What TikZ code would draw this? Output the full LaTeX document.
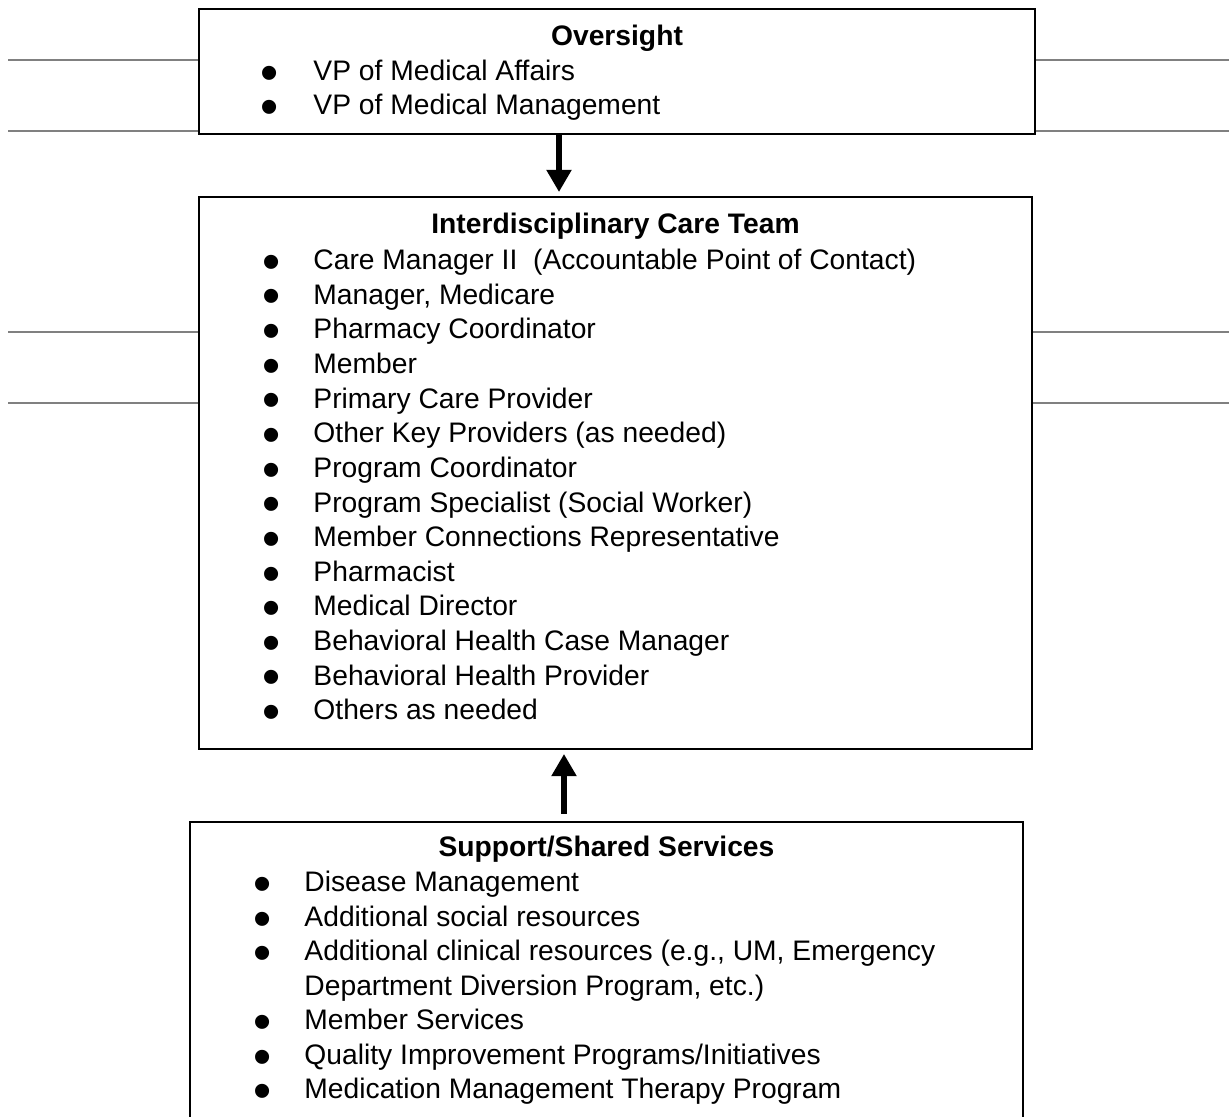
\documentclass[tikz,border=0pt]{standalone}
\usepackage{fontspec}
\setmainfont{Liberation Sans}
\usetikzlibrary{fit,arrows.meta}

\tikzset{
	box/.style={draw,line width=0.85pt,inner sep=0pt},
	sideline/.style={draw=gray,line width=0.8pt},
	ttl/.style={font=\fontsize{12}{14}\bfseries,anchor=base,inner sep=0pt},
	itm/.style={font=\fontsize{12}{14}\selectfont,anchor=base west,inner sep=0pt},
	bul/.style={font=\fontsize{22}{22}\selectfont,anchor=base,inner sep=0pt,yshift=-4.1pt},
	flow/.style={line width=2.2pt,-{Triangle[width=10.2pt,length=9.4pt]}}
}

\begin{document}
\begin{tikzpicture}[x=0.425pt,y=-0.425pt]
	\useasboundingbox (0,0) rectangle (1229,1117);
	\clip (0,0) rectangle (1229,1117);

	%boxes
	\node[box,fit={(199,9.5) (1035,134)}] (ov) {};		%oversight
	\node[box,fit={(199,197) (1032,749)}] (ict) {};		%care team
	\node[box,fit={(190,822) (1023,1140)}] (sup) {};	%support, runs off the page

	%side lines
	\coordinate (l1) at (8,60);		\coordinate (r1) at (1229,60);
	\coordinate (l2) at (8,131);	\coordinate (r2) at (1229,131);
	\coordinate (l3) at (8,332);	\coordinate (r3) at (1229,332);
	\coordinate (l4) at (8,403);	\coordinate (r4) at (1229,403);
	\draw[sideline] (l1) -- (l1 -| ov.west);	\draw[sideline] (r1) -- (r1 -| ov.east);
	\draw[sideline] (l2) -- (l2 -| ov.west);	\draw[sideline] (r2) -- (r2 -| ov.east);
	\draw[sideline] (l3) -- (l3 -| ict.west);	\draw[sideline] (r3) -- (r3 -| ict.east);
	\draw[sideline] (l4) -- (l4 -| ict.west);	\draw[sideline] (r4) -- (r4 -| ict.east);

	%arrows
	\coordinate (a1) at (559,134);
	\coordinate (a2) at (564,815);
	\draw[flow,shorten >=1.7pt] (a1 |- ov.south) -- (a1 |- ict.north);
	\draw[flow,shorten <=3pt,shorten >=1.7pt] (a2 |- sup.north) -- (a2 |- ict.south);

	%oversight
	\node[ttl] (ovt) at (617,46) {Oversight};
	\node[bul] (ovb1) at (270,81) {•};		\node[itm] (ov1) at (313,81) {VP of Medical Affairs};
	\node[bul] (ovb2) at (270,115) {•};		\node[itm] (ov2) at (313,115) {VP of Medical Management};

	%care team
	\node[ttl] (ictt) at (615.5,234) {Interdisciplinary Care Team};
	\node[bul] (ictb1) at (272,269.5) {•};	\node[itm] (ict1) at (313,269.5) {Care Manager II\ \ (Accountable Point of Contact)};
	\node[bul] (ictb2) at (272,304.2) {•};	\node[itm] (ict2) at (313,304.2) {Manager, Medicare};
	\node[bul] (ictb3) at (272,338.8) {•};	\node[itm] (ict3) at (313,338.8) {Pharmacy Coordinator};
	\node[bul] (ictb4) at (272,373.5) {•};	\node[itm] (ict4) at (313,373.5) {Member};
	\node[bul] (ictb5) at (272,408.1) {•};	\node[itm] (ict5) at (313,408.1) {Primary Care Provider};
	\node[bul] (ictb6) at (272,442.8) {•};	\node[itm] (ict6) at (313,442.8) {Other Key Providers (as needed)};
	\node[bul] (ictb7) at (272,477.4) {•};	\node[itm] (ict7) at (313,477.4) {Program Coordinator};
	\node[bul] (ictb8) at (272,512.1) {•};	\node[itm] (ict8) at (313,512.1) {Program Specialist (Social Worker)};
	\node[bul] (ictb9) at (272,546.7) {•};	\node[itm] (ict9) at (313,546.7) {Member Connections Representative};
	\node[bul] (ictb10) at (272,581.4) {•};	\node[itm] (ict10) at (313,581.4) {Pharmacist};
	\node[bul] (ictb11) at (272,616) {•};	\node[itm] (ict11) at (313,616) {Medical Director};
	\node[bul] (ictb12) at (272,650.7) {•};	\node[itm] (ict12) at (313,650.7) {Behavioral Health Case Manager};
	\node[bul] (ictb13) at (272,685.3) {•};	\node[itm] (ict13) at (313,685.3) {Behavioral Health Provider};
	\node[bul] (ictb14) at (272,720) {•};	\node[itm] (ict14) at (313,720) {Others as needed};

	%support
	\node[ttl] (supt) at (606.5,857) {Support/Shared Services};
	\node[bul] (supb1) at (263,892) {•};	\node[itm] (sup1) at (304,892) {Disease Management};
	\node[bul] (supb2) at (263,926.5) {•};	\node[itm] (sup2) at (304,926.5) {Additional social resources};
	\node[bul] (supb3) at (263,961) {•};	\node[itm] (sup3) at (304,961) {Additional clinical resources (e.g., UM, Emergency};
											\node[itm] (sup3b) at (304,995.5) {Department Diversion Program, etc.)};
	\node[bul] (supb4) at (263,1030) {•};	\node[itm] (sup4) at (304,1030) {Member Services};
	\node[bul] (supb5) at (263,1064.5) {•};	\node[itm] (sup5) at (304,1064.5) {Quality Improvement Programs/Initiatives};
	\node[bul] (supb6) at (263,1099) {•};	\node[itm] (sup6) at (304,1099) {Medication Management Therapy Program};
\end{tikzpicture}
\end{document}
